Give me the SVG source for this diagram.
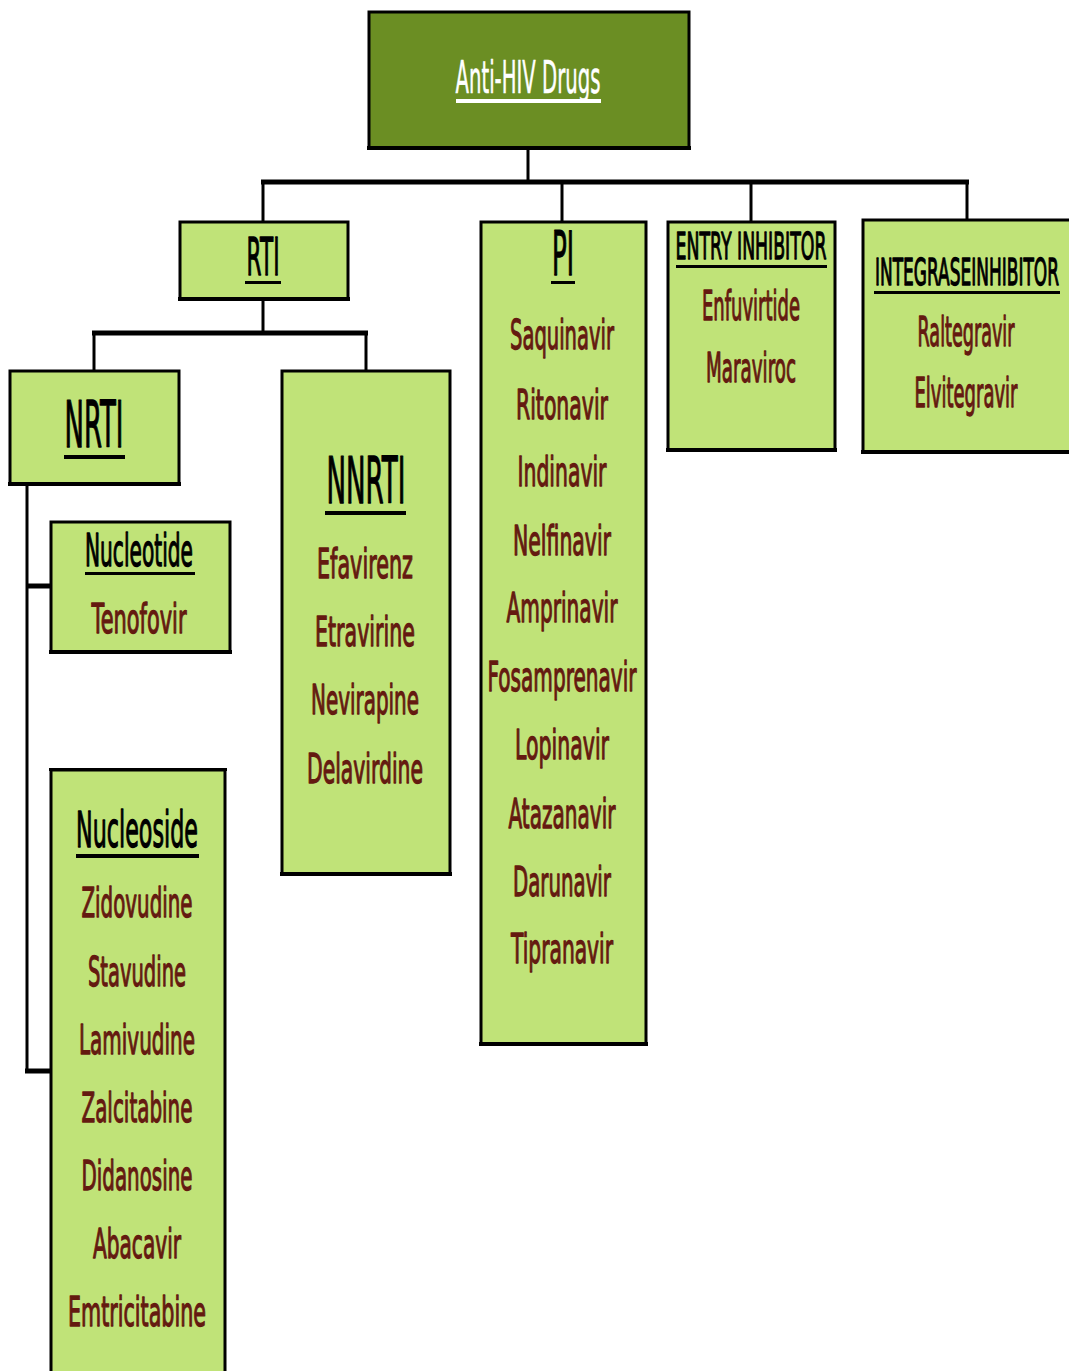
<svg xmlns="http://www.w3.org/2000/svg" width="1069" height="1371" viewBox="0 0 1069 1371">
<style>
.box{fill:#c0e378;stroke:#000;stroke-width:3}
.top{fill:#6b8e23;stroke:#000;stroke-width:3}
.sh{fill:#000}
text{font-family:"DejaVu Sans","Liberation Sans",sans-serif;text-anchor:middle;stroke-width:1.3;stroke-linejoin:round}
.t{fill:#000;stroke:#000}
.i{fill:#641a10;stroke:#641a10;font-size:40px}
.w{fill:#fff;stroke:#fff;stroke-width:0.6}
.ul{fill:#000}
.c{stroke:#000;stroke-width:3;fill:none}
.cb{stroke:#000;stroke-width:5;fill:none}
</style>
<rect width="1069" height="1371" fill="#fff"/>
<g id="connectors">
<line class="c" x1="528" y1="149" x2="528" y2="184"/>
<line class="cb" x1="261" y1="182" x2="969" y2="182"/>
<line class="c" x1="263" y1="182" x2="263" y2="222"/>
<line class="c" x1="562" y1="182" x2="562" y2="222"/>
<line class="c" x1="751" y1="182" x2="751" y2="222"/>
<line class="c" x1="967" y1="182" x2="967" y2="220"/>
<line class="c" x1="263" y1="300" x2="263" y2="333"/>
<line class="cb" x1="92" y1="333" x2="368" y2="333"/>
<line class="c" x1="94" y1="333" x2="94" y2="371"/>
<line class="c" x1="366" y1="333" x2="366" y2="371"/>
<line class="c" x1="27" y1="485" x2="27" y2="1073"/>
<line class="cb" x1="27" y1="586" x2="51" y2="586"/>
<line class="cb" x1="25" y1="1071" x2="51" y2="1071"/>
</g>
<g id="anti-hiv">
<rect class="top" x="369" y="12" width="320" height="136"/>
<rect class="sh" x="367" y="146" width="324" height="4"/>
<text class="w" x="528" y="93" font-size="44" textLength="145" lengthAdjust="spacingAndGlyphs">Anti-HIV Drugs</text>
<rect fill="#fff" x="456" y="99" width="145" height="4"/>
</g>
<g id="rti">
<rect class="box" x="180" y="222" width="168" height="77"/>
<rect class="sh" x="178" y="297" width="172" height="4"/>
<text class="t" x="263" y="275" font-size="52" textLength="33" lengthAdjust="spacingAndGlyphs">RTI</text>
<rect class="ul" x="245" y="281" width="36" height="3"/>
</g>
<g id="nrti">
<rect class="box" x="10" y="371" width="169" height="113"/>
<rect class="sh" x="8" y="482" width="173" height="4"/>
<text class="t" x="94" y="447" font-size="64" textLength="59" lengthAdjust="spacingAndGlyphs">NRTI</text>
<rect class="ul" x="64" y="455" width="61" height="4"/>
</g>
<g id="nnrti">
<rect class="box" x="282" y="371" width="168" height="503"/>
<rect class="sh" x="280" y="872" width="172" height="4"/>
<text class="t" x="366" y="503" font-size="64" textLength="79" lengthAdjust="spacingAndGlyphs">NNRTI</text>
<rect class="ul" x="325" y="511" width="81" height="4"/>
<text class="i" x="365" y="578" textLength="96" lengthAdjust="spacingAndGlyphs">Efavirenz</text>
<text class="i" x="365" y="646" textLength="100" lengthAdjust="spacingAndGlyphs">Etravirine</text>
<text class="i" x="365" y="714" textLength="108" lengthAdjust="spacingAndGlyphs">Nevirapine</text>
<text class="i" x="365" y="783" textLength="116" lengthAdjust="spacingAndGlyphs">Delavirdine</text>
</g>
<g id="pi">
<rect class="box" x="481" y="222" width="165" height="822"/>
<rect class="sh" x="479" y="1042" width="169" height="4"/>
<text class="t" x="563" y="275" font-size="60" textLength="22" lengthAdjust="spacingAndGlyphs">PI</text>
<rect class="ul" x="551" y="281" width="24" height="3"/>
<text class="i" x="562" y="349" textLength="104" lengthAdjust="spacingAndGlyphs">Saquinavir</text>
<text class="i" x="562" y="419" textLength="92" lengthAdjust="spacingAndGlyphs">Ritonavir</text>
<text class="i" x="562" y="486" textLength="89" lengthAdjust="spacingAndGlyphs">Indinavir</text>
<text class="i" x="562" y="555" textLength="98" lengthAdjust="spacingAndGlyphs">Nelfinavir</text>
<text class="i" x="562" y="622" textLength="111" lengthAdjust="spacingAndGlyphs">Amprinavir</text>
<text class="i" x="562" y="691" textLength="149" lengthAdjust="spacingAndGlyphs">Fosamprenavir</text>
<text class="i" x="562" y="759" textLength="94" lengthAdjust="spacingAndGlyphs">Lopinavir</text>
<text class="i" x="562" y="828" textLength="107" lengthAdjust="spacingAndGlyphs">Atazanavir</text>
<text class="i" x="562" y="896" textLength="98" lengthAdjust="spacingAndGlyphs">Darunavir</text>
<text class="i" x="562" y="963" textLength="102" lengthAdjust="spacingAndGlyphs">Tipranavir</text>
</g>
<g id="entry-inhibitor">
<rect class="box" x="668" y="222" width="167" height="228"/>
<rect class="sh" x="666" y="448" width="171" height="4"/>
<text class="t" x="751" y="259" font-size="38" textLength="151" lengthAdjust="spacingAndGlyphs">ENTRY INHIBITOR</text>
<rect class="ul" x="676" y="265" width="151" height="3"/>
<text class="i" x="751" y="320" font-size="38" textLength="98" lengthAdjust="spacingAndGlyphs">Enfuvirtide</text>
<text class="i" x="751" y="382" font-size="38" textLength="90" lengthAdjust="spacingAndGlyphs">Maraviroc</text>
</g>
<g id="integrase-inhibitor">
<rect class="box" x="863" y="220" width="210" height="232"/>
<rect class="sh" x="861" y="450" width="212" height="4"/>
<text class="t" x="967" y="285" font-size="37" textLength="184" lengthAdjust="spacingAndGlyphs">INTEGRASEINHIBITOR</text>
<rect class="ul" x="874" y="291" width="186" height="3"/>
<text class="i" x="966" y="346" font-size="38" textLength="97" lengthAdjust="spacingAndGlyphs">Raltegravir</text>
<text class="i" x="966" y="407" font-size="38" textLength="103" lengthAdjust="spacingAndGlyphs">Elvitegravir</text>
</g>
<g id="nucleotide">
<rect class="box" x="51" y="522" width="179" height="130"/>
<rect class="sh" x="49" y="650" width="183" height="4"/>
<text class="t" x="139" y="566" font-size="44" textLength="108" lengthAdjust="spacingAndGlyphs">Nucleotide</text>
<rect class="ul" x="85" y="572" width="110" height="3"/>
<text class="i" x="139" y="633" font-size="42" textLength="95" lengthAdjust="spacingAndGlyphs">Tenofovir</text>
</g>
<g id="nucleoside">
<rect class="box" x="51" y="770" width="174" height="620"/>
<rect class="sh" x="49" y="768" width="178" height="3"/>
<text class="t" x="137" y="847" font-size="50" textLength="122" lengthAdjust="spacingAndGlyphs">Nucleoside</text>
<rect class="ul" x="76" y="854" width="123" height="4"/>
<text class="i" x="137" y="917" textLength="111" lengthAdjust="spacingAndGlyphs">Zidovudine</text>
<text class="i" x="137" y="986" textLength="98" lengthAdjust="spacingAndGlyphs">Stavudine</text>
<text class="i" x="137" y="1054" textLength="116" lengthAdjust="spacingAndGlyphs">Lamivudine</text>
<text class="i" x="137" y="1122" textLength="111" lengthAdjust="spacingAndGlyphs">Zalcitabine</text>
<text class="i" x="137" y="1190" textLength="111" lengthAdjust="spacingAndGlyphs">Didanosine</text>
<text class="i" x="137" y="1258" textLength="88" lengthAdjust="spacingAndGlyphs">Abacavir</text>
<text class="i" x="137" y="1326" textLength="138" lengthAdjust="spacingAndGlyphs">Emtricitabine</text>
</g>
</svg>
